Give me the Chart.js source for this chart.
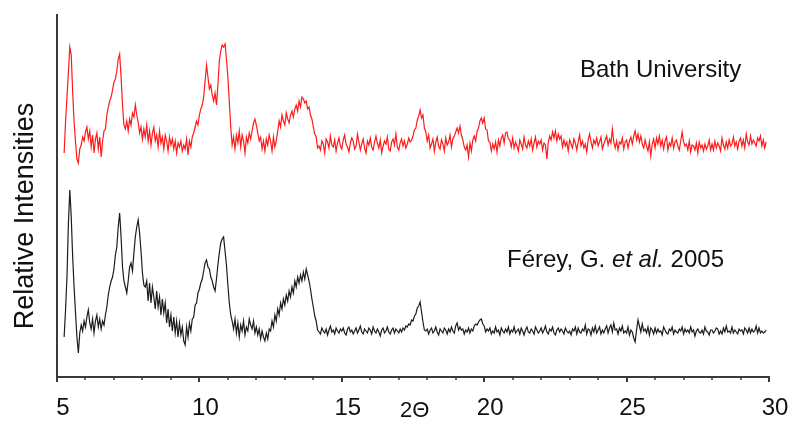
<!DOCTYPE html>
<html>
<head>
<meta charset="utf-8">
<script src="https://cdn.jsdelivr.net/npm/chart.js@4"></script>
<style>
html,body{margin:0;padding:0;background:#fff;}
#wrap{width:792px;height:423px;position:relative;}
</style>
</head>
<body>
<div id="wrap"><canvas id="c"></canvas></div>
<script>
// 2-theta sampling grid (degrees)
const startAngle = 5.25;
const stepAngle = 0.05;

// Bath University pattern (relative intensity, offset trace), 5.25 .. 29.90 step 0.05
const bathIntensity = [
  224,255,280,305,330,322,285,255,235,218,214,228,232,240,236,
  245,250,238,246,230,242,224,238,244,228,240,220,236,246,248,262,270,276,280,287,
  295,298,306,318,323,300,272,252,248,256,246,258,252,264,260,272,262,255,244,250,
  238,248,240,252,236,246,232,244,250,236,242,230,246,234,240,228,242,236,226,240,
  232,238,228,236,224,234,230,236,226,232,228,238,222,236,230,240,244,250,256,252,
  262,268,272,280,296,312,300,288,292,282,276,284,272,292,316,326,332,330,333,318,
  300,275,250,232,240,228,242,234,246,230,242,236,224,240,234,244,238,246,254,258,
  252,244,236,240,228,236,226,238,232,242,236,226,240,230,236,246,256,250,262,256,
  252,264,258,254,262,266,260,268,272,266,276,270,280,278,274,276,268,270,262,258,
  250,243,240,229,231,227,236,233,224,238,235,229,241,232,230,237,226,234,239,231,
  228,237,242,233,230,225,234,239,236,228,231,243,235,227,233,238,229,224,236,232,
  239,230,227,235,241,234,229,237,224,231,236,233,240,228,226,235,238,232,243,230,
  227,234,238,231,236,229,233,239,235,237,241,247,249,257,261,267,259,262,249,245,
  236,242,229,233,238,226,235,240,231,228,237,233,226,239,232,235,242,230,238,241,
  245,249,244,251,242,237,230,227,232,220,234,226,237,241,236,246,249,256,259,254,
  259,248,247,236,235,226,233,228,235,225,237,231,239,242,234,244,245,238,237,230,
  239,229,235,231,226,237,233,228,240,232,229,236,231,238,227,234,240,230,236,233,
  237,227,234,232,218,235,241,237,245,239,246,236,243,238,241,230,237,231,235,226,
  237,233,229,238,234,227,235,242,231,236,229,233,225,237,243,235,229,237,233,239,
  231,235,240,228,233,237,241,232,238,234,248,235,229,236,227,235,233,239,228,235,
  237,229,236,240,233,241,246,237,243,235,241,233,229,237,231,226,235,221,233,238,
  229,239,233,241,231,237,228,236,240,227,234,231,239,229,235,237,231,227,236,245,
  235,231,233,227,236,225,232,231,227,234,224,235,229,232,226,233,228,231,237,227,
  233,227,236,229,234,231,226,239,232,228,235,229,237,231,233,240,231,235,228,236,
  239,231,237,229,243,235,232,241,233,237,234,231,239,236,241,231,237,229,235
];

// Férey et al. 2005 pattern (relative intensity), same grid
const fereyIntensity = [
  40,67,100,153,187,160,120,90,64,40,24,44,52,46,56,
  50,60,67,54,48,58,44,56,62,50,58,48,56,52,62,70,82,90,96,100,
  108,122,130,150,164,140,110,96,90,84,96,110,114,106,124,140,150,157,144,126,
  104,92,90,96,76,94,74,90,80,68,86,70,80,62,78,64,74,54,68,50,
  62,46,60,44,56,40,54,42,50,36,32,50,40,54,46,58,60,72,74,84,
  88,94,98,106,114,117,110,108,100,96,90,86,98,112,124,134,138,140,126,112,
  92,74,62,56,48,58,44,54,40,52,46,56,42,50,46,58,52,48,56,44,
  50,42,48,38,46,40,36,44,38,48,46,56,50,62,56,68,62,74,68,78,
  72,82,76,86,80,90,84,96,90,100,94,102,96,105,98,108,102,96,88,78,
  70,61,56,47,45,43,49,46,44,48,42,47,51,45,47,43,49,46,44,48,
  46,49,44,42,48,50,45,47,43,46,49,44,47,51,45,43,48,46,44,49,
  47,43,50,46,44,48,45,41,47,49,44,46,50,45,43,47,49,44,48,46,
  44,48,45,49,47,51,50,53,52,57,56,61,63,69,71,75,65,55,47,46,
  48,43,47,49,44,46,50,45,42,48,46,44,49,47,43,48,45,50,46,44,
  51,54,47,50,47,48,43,47,45,49,44,48,46,51,53,52,55,57,58,53,
  51,45,48,46,49,43,46,44,50,45,47,42,49,46,44,48,45,50,43,47,
  45,50,44,46,48,43,49,46,42,47,50,45,44,48,46,43,50,47,44,46,
  49,44,47,51,45,43,48,46,50,44,42,47,49,45,48,46,43,49,46,44,
  46,42,48,46,50,43,49,45,44,48,46,52,43,48,47,42,49,45,51,44,
  47,50,43,47,44,48,51,44,49,52,45,54,47,48,43,49,46,51,44,46,
  44,50,42,47,45,39,35,47,57,51,45,53,46,48,44,50,42,49,47,43,
  49,44,48,45,46,42,50,47,44,43,48,46,50,43,47,45,44,48,46,50,
  43,48,45,47,44,50,45,47,41,46,48,45,44,47,43,50,46,45,42,47,
  47,44,46,49,48,43,46,43,49,45,51,45,46,44,50,44,47,45,43,48,
  46,47,43,49,47,44,49,44,48,45,46,51,44,49,44,46,44,45,47
];

const xTickLabels = ['5','10','15','20','25','30'];
const xMajorTicks = [5,10,15,20,25,30];
const xMinorTicks = [6,7,8,9,11,12,13,14,16,17,18,19,21,22,23,24,26,27,28,29];

const yTitle = 'Relative Intensities';
const xTitle = '2\u0398';
const bathLabel = 'Bath University';
const fereyLabelParts = [['Férey, G. ', false], ['et al.', true], [' 2005', false]];

const twoTheta = bathIntensity.map((_, i) => +(startAngle + i * stepAngle).toFixed(2));
const toPoints = arr => arr.map((v, i) => ({x: twoTheta[i], y: v}));

const FONT = '"Liberation Sans", Arial, sans-serif';

const decor = {
  id: 'decor',
  afterDraw(chart) {
    const ctx = chart.ctx;
    const xs = chart.scales.x, ys = chart.scales.y;
    const axisY = chart.chartArea.bottom;
    ctx.save();
    ctx.strokeStyle = '#3a3a3a';
    ctx.lineWidth = 2;
    xMajorTicks.forEach(t => {
      const px = Math.round(xs.getPixelForValue(t));
      ctx.beginPath(); ctx.moveTo(px, axisY); ctx.lineTo(px, axisY + 5); ctx.stroke();
    });
    ctx.lineWidth = 1.5;
    xMinorTicks.forEach(t => {
      const px = Math.round(xs.getPixelForValue(t));
      ctx.beginPath(); ctx.moveTo(px, axisY); ctx.lineTo(px, axisY + 3); ctx.stroke();
    });
    ctx.fillStyle = '#111';
    ctx.font = '24px ' + FONT;
    ctx.textAlign = 'center';
    ctx.textBaseline = 'alphabetic';
    xMajorTicks.forEach((t, i) => {
      ctx.fillText(xTickLabels[i], xs.getPixelForValue(t) + 6, axisY + 38);
    });
    // x axis title
    ctx.font = '22px ' + FONT;
    ctx.textAlign = 'left';
    ctx.fillText(xTitle, xs.getPixelForValue(17.04), axisY + 40);
    // y axis title
    ctx.save();
    ctx.font = '27px ' + FONT;
    ctx.textAlign = 'center';
    ctx.translate(chart.chartArea.left - 24, (chart.chartArea.top + chart.chartArea.bottom) / 2 + 20);
    ctx.rotate(-Math.PI / 2);
    ctx.fillText(yTitle, 0, 0);
    ctx.restore();
    // annotations
    ctx.font = '24px ' + FONT;
    ctx.textAlign = 'left';
    ctx.fillText(bathLabel, xs.getPixelForValue(23.36), ys.getPixelForValue(300));
    let lx = xs.getPixelForValue(20.8);
    const ly = ys.getPixelForValue(110);
    fereyLabelParts.forEach(([txt, it]) => {
      ctx.font = (it ? 'italic ' : '') + '24px ' + FONT;
      ctx.fillText(txt, lx, ly);
      lx += ctx.measureText(txt).width;
    });
    ctx.restore();
  }
};

new Chart(document.getElementById('c'), {
  type: 'line',
  data: {
    datasets: [
      {label: bathLabel, data: toPoints(bathIntensity), borderColor: '#ff1a1a', borderWidth: 1.2, pointRadius: 0, tension: 0, fill: false},
      {label: 'Férey, G. et al. 2005', data: toPoints(fereyIntensity), borderColor: '#1c1c1c', borderWidth: 1.2, pointRadius: 0, tension: 0, fill: false}
    ]
  },
  options: {
    responsive: true,
    maintainAspectRatio: false,
    animation: false,
    devicePixelRatio: 1,
    layout: {padding: {left: 57, right: 23, top: 15, bottom: 46}},
    plugins: {legend: {display: false}, tooltip: {enabled: false}},
    scales: {
      x: {
        type: 'linear', min: 5, max: 30,
        grid: {display: false, drawTicks: false},
        border: {display: true, color: '#3a3a3a', width: 2},
        ticks: {display: false},
        title: {display: false}
      },
      y: {
        type: 'linear', min: 0, max: 362,
        grid: {display: false, drawTicks: false},
        border: {display: true, color: '#3a3a3a', width: 2},
        ticks: {display: false},
        title: {display: false}
      }
    }
  },
  plugins: [decor]
});
</script>
</body>
</html>
